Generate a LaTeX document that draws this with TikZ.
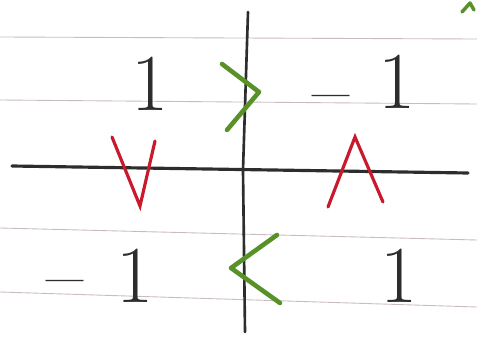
\documentclass[tikz,border=0pt]{standalone}
\begin{document}
\begin{tikzpicture}[x=0.02cm,y=-0.02cm,
  rule/.style={draw=rulegray,line width=0.5pt},
  axis/.style={draw=pencil,line width=1.8pt,line cap=round},
  greenmark/.style={draw=markgreen,line width=2.6pt,line cap=round,line join=round},
  redmark/.style={draw=markred,line width=1.8pt,line cap=round,line join=miter},
  num/.style={inner sep=0pt,text=pencil,font=\fontsize{46}{52}\selectfont}]
\definecolor{rulegray}{RGB}{200,188,195}
\definecolor{pencil}{RGB}{45,45,45}
\definecolor{markgreen}{RGB}{88,145,40}
\definecolor{markred}{RGB}{200,25,45}
\useasboundingbox (0,0) rectangle (477,338);
\fill[white] (0,0) rectangle (477,338);
% ruled paper lines
\draw[rule] (0,37) -- (477,39);
\draw[rule] (0,100) -- (477,104);
\draw[rule] (0,228) -- (477,240);
\draw[rule] (0,292) -- (477,307);
% axes
\draw[axis] (12,166) -- (468,173);
\draw[axis,line width=1.5pt] (248,12) -- (243,170) -- (245,332);
% green marks
\draw[greenmark] (222,64) -- (259,92) -- (227,130);
\draw[greenmark] (277,235) -- (231,268) -- (280,303);
\draw[greenmark,line width=2pt] (462,12) -- (470,3) -- (474,10);
% red marks
\draw[redmark] (112,137) -- (140,206) -- (155,141);
\draw[redmark] (328,207) -- (355,137) -- (383,202);
% numbers
\node[num,anchor=base] (tl) at (150,110) {1};
\node[num,anchor=base] (tr) at (364,108) {\raisebox{-0.12em}{\textendash}\hspace{0.35em}1};
\node[num,anchor=base] (bl) at (100,302) {\textendash\hspace{0.4em}1};
\node[num,anchor=base] (br) at (399,302) {1};
\end{tikzpicture}
\end{document}
